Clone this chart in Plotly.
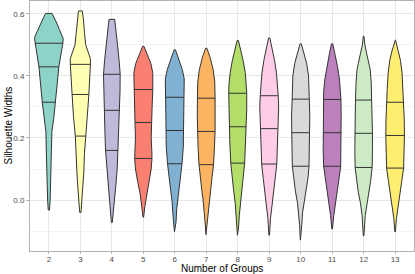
import numpy as np
import plotly.graph_objects as go

groups = [2, 3, 4, 5, 6, 7, 8, 9, 10, 11, 12, 13]
colors = ["#8DD3C7", "#FFFFB3", "#BEBADA", "#FB8072", "#80B1D3", "#FDB462",
          "#B3DE69", "#FCCDE5", "#D9D9D9", "#BC80BD", "#CCEBC5", "#FFED6F"]

# quantiles (25%, 50%, 75%) of silhouette widths per group
q25 = [0.315, 0.206, 0.160, 0.134, 0.117, 0.114, 0.119, 0.116, 0.109, 0.109, 0.105, 0.103]
q50 = [0.429, 0.340, 0.289, 0.250, 0.224, 0.221, 0.236, 0.230, 0.217, 0.217, 0.215, 0.208]
q75 = [0.505, 0.437, 0.405, 0.356, 0.331, 0.328, 0.344, 0.336, 0.325, 0.324, 0.322, 0.315]

# violin density profiles: silhouette levels and half-widths (category units)
profile_y = [
    [0.601, 0.59, 0.57, 0.55, 0.53, 0.52, 0.505, 0.47, 0.43, 0.38, 0.315, 0.26, 0.22, 0.17, 0.10, 0.05, 0.0, -0.032],
    [0.609, 0.58, 0.54, 0.50, 0.47, 0.455, 0.437, 0.39, 0.34, 0.27, 0.206, 0.15, 0.09, 0.04, 0.0, -0.040],
    [0.582, 0.55, 0.50, 0.45, 0.405, 0.35, 0.289, 0.22, 0.160, 0.10, 0.05, 0.0, -0.04, -0.072],
    [0.495, 0.47, 0.44, 0.41, 0.37, 0.356, 0.30, 0.25, 0.20, 0.16, 0.134, 0.10, 0.06, 0.02, -0.02, -0.055],
    [0.484, 0.45, 0.42, 0.39, 0.36, 0.331, 0.28, 0.224, 0.17, 0.117, 0.07, 0.03, 0.0, -0.03, -0.07, -0.102],
    [0.489, 0.46, 0.42, 0.38, 0.328, 0.27, 0.221, 0.17, 0.114, 0.07, 0.03, 0.0, -0.04, -0.08, -0.111],
    [0.514, 0.48, 0.45, 0.41, 0.37, 0.344, 0.29, 0.236, 0.18, 0.119, 0.07, 0.03, -0.01, -0.05, -0.09, -0.113],
    [0.522, 0.49, 0.45, 0.41, 0.37, 0.336, 0.30, 0.23, 0.17, 0.116, 0.07, 0.02, -0.02, -0.06, -0.113],
    [0.503, 0.47, 0.44, 0.40, 0.36, 0.325, 0.27, 0.217, 0.16, 0.109, 0.07, 0.03, -0.01, -0.04, -0.08, -0.129],
    [0.503, 0.47, 0.43, 0.39, 0.35, 0.324, 0.27, 0.217, 0.16, 0.109, 0.07, 0.03, -0.01, -0.05, -0.093],
    [0.528, 0.50, 0.47, 0.44, 0.42, 0.38, 0.322, 0.27, 0.215, 0.16, 0.105, 0.06, 0.025, -0.01, -0.05, -0.115],
    [0.516, 0.48, 0.45, 0.41, 0.36, 0.315, 0.26, 0.208, 0.15, 0.103, 0.06, 0.02, -0.02, -0.06, -0.102],
]
profile_w = [
    [0.10, 0.16, 0.25, 0.33, 0.43, 0.455, 0.444, 0.38, 0.317, 0.27, 0.21, 0.15, 0.095, 0.085, 0.075, 0.06, 0.04, 0.02],
    [0.06, 0.10, 0.13, 0.17, 0.27, 0.32, 0.32, 0.30, 0.27, 0.22, 0.16, 0.13, 0.11, 0.08, 0.04, 0.02],
    [0.09, 0.13, 0.18, 0.23, 0.265, 0.26, 0.24, 0.22, 0.20, 0.17, 0.13, 0.08, 0.04, 0.015],
    [0.02, 0.12, 0.24, 0.30, 0.305, 0.30, 0.28, 0.265, 0.25, 0.27, 0.275, 0.25, 0.18, 0.10, 0.05, 0.01],
    [0.02, 0.14, 0.24, 0.30, 0.295, 0.286, 0.27, 0.28, 0.27, 0.23, 0.18, 0.13, 0.09, 0.06, 0.04, 0.01],
    [0.02, 0.12, 0.22, 0.27, 0.28, 0.285, 0.28, 0.26, 0.23, 0.18, 0.14, 0.10, 0.06, 0.03, 0.01],
    [0.02, 0.10, 0.17, 0.24, 0.28, 0.286, 0.285, 0.27, 0.25, 0.22, 0.17, 0.13, 0.08, 0.05, 0.025, 0.01],
    [0.02, 0.09, 0.17, 0.23, 0.27, 0.286, 0.30, 0.27, 0.255, 0.24, 0.19, 0.13, 0.08, 0.04, 0.01],
    [0.02, 0.11, 0.19, 0.25, 0.265, 0.27, 0.29, 0.28, 0.275, 0.265, 0.23, 0.17, 0.10, 0.06, 0.035, 0.01],
    [0.02, 0.09, 0.17, 0.23, 0.27, 0.28, 0.286, 0.286, 0.285, 0.27, 0.22, 0.16, 0.10, 0.05, 0.01],
    [0.01, 0.04, 0.10, 0.17, 0.21, 0.24, 0.26, 0.275, 0.28, 0.28, 0.27, 0.22, 0.17, 0.10, 0.05, 0.01],
    [0.01, 0.10, 0.17, 0.22, 0.25, 0.275, 0.29, 0.296, 0.29, 0.27, 0.21, 0.15, 0.09, 0.04, 0.01],
]

fig = go.Figure()
for i, g in enumerate(groups):
    y = np.array(profile_y[i])
    w = np.array(profile_w[i])
    xs = np.concatenate([g + w, (g - w)[::-1], [g + w[0]]])
    ys = np.concatenate([y, y[::-1], [y[0]]])
    fig.add_trace(go.Scatter(x=xs, y=ys, mode="lines", fill="toself",
                             fillcolor=colors[i],
                             line=dict(color="#333333", width=1),
                             hoverinfo="skip", showlegend=False))
    yi = y[::-1]
    wi = w[::-1]
    lx, ly = [], []
    for q in (q25[i], q50[i], q75[i]):
        hw = float(np.interp(q, yi, wi))
        lx += [g - hw, g + hw, None]
        ly += [q, q, None]
    fig.add_trace(go.Scatter(x=lx, y=ly, mode="lines",
                             line=dict(color="#333333", width=1),
                             hoverinfo="skip", showlegend=False))

fig.update_layout(
    width=415, height=274,
    margin=dict(l=30, r=1, t=1, b=23, autoexpand=False),
    paper_bgcolor="white", plot_bgcolor="white",
    font=dict(family="Liberation Sans, Arial, sans-serif", color="#000000"),
    xaxis=dict(
        range=[1.4, 13.6], tickmode="array", tickvals=groups,
        ticktext=[str(g) for g in groups], automargin=False,
        showgrid=True, gridcolor="#E8E8E8", gridwidth=1,
        zeroline=False, showline=True, linecolor="#B3B3B3", linewidth=1, mirror=True,
        ticks="outside", ticklen=2, tickcolor="#B3B3B3",
        ticklabelstandoff=-2,
        tickfont=dict(size=8, color="#4D4D4D"),
    ),
    yaxis=dict(
        range=[-0.164, 0.641], tickmode="array", tickvals=[0.0, 0.2, 0.4, 0.6],
        ticktext=["0.0", "0.2", "0.4", "0.6"], automargin=False,
        showgrid=True, gridcolor="#E8E8E8", gridwidth=1,
        minor=dict(tickvals=[-0.1, 0.1, 0.3, 0.5], showgrid=True, gridcolor="#F3F3F3", gridwidth=0.5, ticks=""),
        zeroline=False, showline=True, linecolor="#B3B3B3", linewidth=1, mirror=True,
        ticks="outside", ticklen=3, tickcolor="#B3B3B3",
        tickfont=dict(size=8, color="#4D4D4D"),
    ),
    annotations=[
        dict(text="Number of Groups", xref="paper", yref="paper", x=0.5, y=0,
             yshift=-17, xanchor="center", yanchor="middle", showarrow=False,
             font=dict(size=10, color="#000000")),
        dict(text="Silhouette Widths", xref="paper", yref="paper", x=0, y=0.5,
             xshift=-30, xanchor="left", yanchor="middle", textangle=-90, showarrow=False,
             font=dict(size=10, color="#000000")),
    ],
)

fig.write_html("out.html", config={"displayModeBar": False},
               post_script="document.body.style.margin='0';")
